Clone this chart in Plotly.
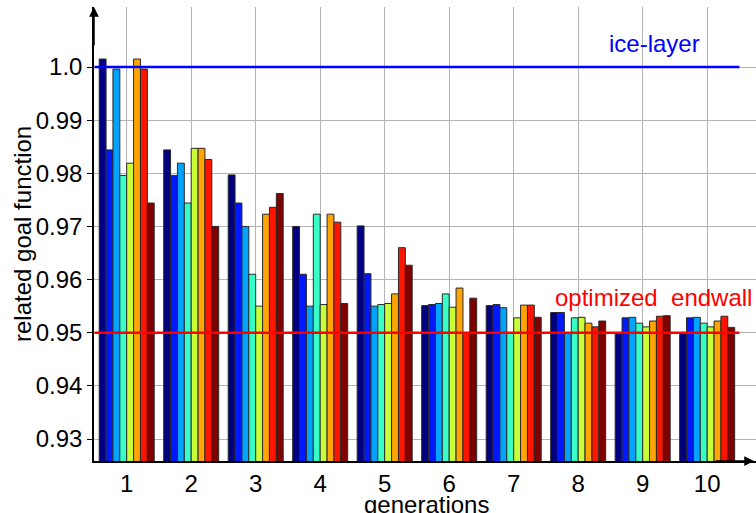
import plotly.graph_objects as go

generations = [1, 2, 3, 4, 5, 6, 7, 8, 9, 10]

s1 = [1.0015, 0.9844, 0.9797, 0.9700, 0.9701, 0.9551, 0.9551, 0.9538, 0.9500, 0.9500]
s2 = [0.9844, 0.9796, 0.9744, 0.9610, 0.9611, 0.9553, 0.9553, 0.9538, 0.9528, 0.9528]
s3 = [0.9996, 0.9819, 0.9700, 0.9550, 0.9550, 0.9555, 0.9547, 0.9500, 0.9529, 0.9529]
s4 = [0.9796, 0.9744, 0.9610, 0.9723, 0.9553, 0.9573, 0.9500, 0.9528, 0.9518, 0.9518]
s5 = [0.9819, 0.9847, 0.9550, 0.9553, 0.9555, 0.9548, 0.9528, 0.9529, 0.9511, 0.9511]
s6 = [1.0015, 0.9847, 0.9723, 0.9723, 0.9573, 0.9584, 0.9552, 0.9518, 0.9522, 0.9522]
s7 = [0.9996, 0.9826, 0.9736, 0.9708, 0.9660, 0.9500, 0.9552, 0.9511, 0.9531, 0.9531]
s8 = [0.9744, 0.9700, 0.9762, 0.9555, 0.9627, 0.9565, 0.9529, 0.9522, 0.9532, 0.9510]

series = [s1, s2, s3, s4, s5, s6, s7, s8]
colors = ["#000080", "#0018ff", "#00a4ff", "#38ffc8", "#c8ff38", "#ffa400", "#ff1400", "#800000"]

ytick_vals = [0.93, 0.94, 0.95, 0.96, 0.97, 0.98, 0.99, 1.0]
ytick_text = ["0.93", "0.94", "0.95", "0.96", "0.97", "0.98", "0.99", "1.0"]

ice_layer = 1.0
optimized = 0.95

FONT = "Liberation Sans"
FS = 24

fig = go.Figure()
for vals, col in zip(series, colors):
    fig.add_trace(go.Bar(
        x=generations, y=vals,
        marker=dict(color=col, line=dict(color="#2a2a2a", width=1)),
        showlegend=False,
    ))

fig.update_layout(
    width=756, height=513,
    margin=dict(l=94, r=0, t=7, b=52),
    plot_bgcolor="white", paper_bgcolor="white",
    barmode="group", bargap=0.147, bargroupgap=0,
    font=dict(family=FONT, size=FS, color="black"),
    xaxis=dict(
        range=[0.493, 10.757],
        tickvals=generations, ticktext=[str(g) for g in generations],
        ticks="", showgrid=True, gridcolor="#b4b4b4", gridwidth=1,
        showline=True, linecolor="black", linewidth=1.5,
        zeroline=False, ticklabelstandoff=0,
        tickfont=dict(family=FONT, size=FS),
    ),
    yaxis=dict(
        range=[0.92586, 1.01129],
        tickvals=ytick_vals, ticktext=ytick_text,
        ticks="outside", ticklen=5, tickcolor="black", tickwidth=1,
        showgrid=True, gridcolor="#b4b4b4", gridwidth=1,
        showline=True, linecolor="black", linewidth=1.5,
        zeroline=False,
        tickfont=dict(family=FONT, size=FS),
    ),
)

# reference lines
fig.add_shape(type="line", xref="x", yref="y", x0=0.5, x1=10.5, y0=ice_layer, y1=ice_layer,
              line=dict(color="#0000ff", width=2.5), layer="above")
fig.add_shape(type="line", xref="x", yref="y", x0=0.5, x1=10.5, y0=optimized, y1=optimized,
              line=dict(color="#ff0000", width=2.5), layer="above")

fig.add_annotation(text="ice-layer", xref="paper", yref="paper", x=0.775, y=0.9207,
                   xanchor="left", yanchor="middle", showarrow=False,
                   font=dict(family=FONT, size=FS, color="#0000ff"))
fig.add_annotation(text="optimized  endwall", xref="paper", yref="paper", x=0.693, y=0.361,
                   xanchor="left", yanchor="middle", showarrow=False,
                   font=dict(family=FONT, size=FS, color="#ff0000"))

# axis titles
fig.add_annotation(text="related goal function", xref="paper", yref="paper", x=-0.1088, y=0.5,
                   xanchor="center", yanchor="middle", textangle=-90, showarrow=False,
                   font=dict(family=FONT, size=FS))
fig.add_annotation(text="generations", xref="paper", yref="paper", x=0.503, y=-0.0965,
                   xanchor="center", yanchor="middle", showarrow=False,
                   font=dict(family=FONT, size=FS))

# axis arrows
fig.add_annotation(text="", xref="paper", yref="paper", x=0.997, y=0, ax=-40, ay=0,
                   showarrow=True, arrowhead=2, arrowsize=1.3, arrowwidth=1.5, arrowcolor="black")
fig.add_annotation(text="", xref="paper", yref="paper", x=0, y=1.0, ax=0, ay=40,
                   showarrow=True, arrowhead=2, arrowsize=1.3, arrowwidth=1.5, arrowcolor="black")

fig.write_html("out.html", config={"displayModeBar": False},
               post_script="document.body.style.margin='0px';")
